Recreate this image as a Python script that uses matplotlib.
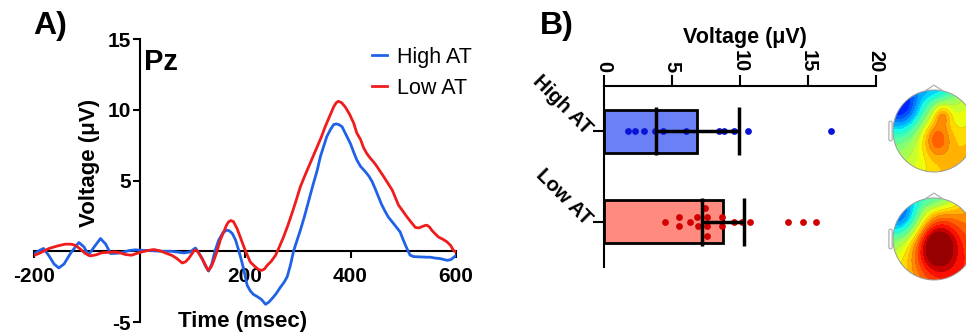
import numpy as np
import matplotlib
matplotlib.use('Agg')
import matplotlib.pyplot as plt
from matplotlib.patches import Circle, Polygon, FancyBboxPatch

plt.rcParams['font.family'] = ['Liberation Sans', 'DejaVu Sans']
plt.rcParams['axes.unicode_minus'] = False

# ---------------- data: panel A (ERP at Pz) ----------------
time_high = [-200, -190, -182, -172, -162, -153, -143, -130, -115, -105, -97, -85, -74, -64, -55, -45,
             -34, -20, -8, 2, 20, 40, 60, 84, 96, 106, 112, 119, 125, 131, 137, 143, 150, 158, 165,
             170, 176, 182, 188, 193, 198, 204, 210, 216, 223, 231, 239, 245, 251, 259, 267, 274,
             280, 286, 292, 298, 305, 313, 321, 329, 337, 343, 349, 355, 362, 368, 373, 378, 384,
             392, 400, 406, 412, 419, 428, 435, 441, 447, 453, 459, 466, 472, 479, 486, 494, 500,
             507, 513, 520, 532, 545, 551, 560, 570, 583, 590, 595, 600]
volt_high = [-0.2, 0.05, 0.2, -0.3, -0.9, -1.18, -0.9, -0.1, 0.62, 0.3, -0.28, 0.35, 0.9, 0.5, -0.16,
             -0.15, -0.1, 0.05, 0.1, 0.07, 0.05, 0.0, 0.0, -0.12, -0.05, 0.23, -0.1, -0.52, -1.05,
             -1.4, -0.9, 0.0, 0.78, 1.3, 1.49, 1.45, 1.25, 0.8, 0.07, -0.6, -1.35, -2.4, -2.8, -3.05,
             -3.2, -3.4, -3.75, -3.6, -3.36, -3.0, -2.55, -2.2, -1.8, -1.0, 0.0, 0.7, 1.49, 2.5, 3.6,
             4.7, 5.74, 6.7, 7.4, 8.1, 8.6, 8.95, 9.0, 8.95, 8.8, 8.2, 7.6, 7.0, 6.45, 6.0, 5.63, 5.3,
             4.92, 4.4, 3.85, 3.3, 2.79, 2.4, 2.08, 1.75, 1.37, 0.8, 0.19, -0.28, -0.38, -0.4, -0.42,
             -0.42, -0.48, -0.52, -0.64, -0.6, -0.45, -0.3]
time_low = [-200, -190, -172, -155, -141, -130, -122, -112, -103, -93, -82, -71, -58, -46, -36, -27,
            -15, -5, 4, 15, 27, 40, 52, 62, 71, 81, 87, 93, 99, 104, 109, 115, 122, 130, 136, 141,
            147, 153, 160, 165, 169, 173, 178, 185, 191, 198, 204, 210, 218, 226, 232, 237, 242,
            250, 258, 265, 273, 281, 289, 297, 305, 313, 321, 329, 337, 345, 352, 360, 368, 373,
            377, 383, 390, 398, 406, 412, 419, 425, 431, 437, 444, 450, 457, 463, 471, 479, 485,
            491, 499, 507, 515, 523, 530, 535, 541, 545, 550, 554, 560, 567, 575, 583, 590, 595, 600]
volt_low = [-0.3, -0.15, 0.19, 0.38, 0.5, 0.5, 0.43, 0.15, -0.16, -0.33, -0.25, -0.1, -0.08, -0.05,
            -0.12, -0.23, -0.28, -0.15, -0.05, 0.05, 0.12, 0.02, -0.16, -0.3, -0.52, -0.83, -0.75,
            -0.52, -0.2, 0.07, 0.05, -0.3, -0.76, -1.35, -1.1, -0.64, 0.0, 0.78, 1.4, 1.85, 2.08,
            2.17, 2.1, 1.6, 1.0, 0.3, -0.25, -0.76, -1.05, -1.3, -1.35, -1.25, -1.0, -0.7, -0.28,
            0.3, 1.0, 1.8, 2.67, 3.6, 4.56, 5.3, 6.0, 6.7, 7.4, 8.1, 8.8, 9.5, 10.2, 10.5, 10.6,
            10.5, 10.2, 9.7, 9.06, 8.35, 7.9, 7.3, 6.9, 6.6, 6.3, 6.0, 5.6, 5.27, 4.8, 4.33, 3.8,
            3.26, 2.85, 2.43, 2.05, 1.68, 1.65, 1.73, 1.82, 1.84, 1.7, 1.49, 1.25, 1.0, 0.85, 0.66,
            0.4, 0.07, -0.05]
xticks_a = [-200, 200, 400, 600]
yticks_a = [-5, 5, 10, 15]

# ---------------- data: panel B (bar + points) ----------------
groups = ['High AT', 'Low AT']
bar_means = [6.84, 8.73]
err_lower = [3.04, 1.53]
err_upper = [3.06, 1.57]
points_high = [1.74, 2.28, 2.92, 3.75, 4.36, 6.03, 8.48, 8.82, 9.56, 10.6, 16.7]
points_low = [4.49, 5.51, 5.51, 6.32, 6.86, 6.94, 7.43, 7.55, 7.55, 7.55, 8.65, 8.65,
              9.56, 10.17, 10.7, 13.5, 14.6, 15.6]
xticks_b = [0, 5, 10, 15, 20]

# topography field parameters: (base, gradient x, gradient y) and blobs (cx, cy, sx, sy, amp)
topo_high_base = (0.46, 0.14, -0.12)
topo_high_blobs = [(-0.8, 0.6, 0.55, 0.6, -0.4), (0.1, 1.0, 0.5, 0.3, -0.18),
                   (0.05, -0.15, 0.38, 0.5, 0.27), (0.2, 0.4, 0.22, 0.27, 0.18)]
topo_low_base = (0.6, 0.15, -0.1)
topo_low_blobs = [(-0.8, 0.6, 0.55, 0.6, -0.42), (0.1, 1.0, 0.5, 0.3, -0.2),
                  (0.05, -0.15, 0.55, 0.7, 0.45)]

BLUE_LINE = '#1f62e8'
RED_LINE = '#f01c1c'
BAR_COLORS = ['#6b80f5', '#ff8a80']
DOT_COLORS = ['#0a14d8', '#d00000']

W, H = 966, 335
fig = plt.figure(figsize=(W / 100, H / 100), dpi=100)


def px(l, t, w, h):
    return [l / W, 1 - (t + h) / H, w / W, h / H]


# ---------------- Panel A ----------------
axA = fig.add_axes(px(34, 39, 422, 283))
axA.plot(time_high, volt_high, color=BLUE_LINE, lw=2.0, label='High AT', zorder=3)
axA.plot(time_low, volt_low, color=RED_LINE, lw=2.0, label='Low AT', zorder=3)
axA.set_xlim(-200, 600)
axA.set_ylim(-5, 15)
axA.spines['left'].set_position(('data', 0))
axA.spines['bottom'].set_position(('data', 0))
axA.spines['top'].set_visible(False)
axA.spines['right'].set_visible(False)
for s in ['left', 'bottom']:
    axA.spines[s].set_linewidth(1.5)
axA.set_xticks(xticks_a)
axA.set_yticks(yticks_a)
axA.tick_params(axis='both', direction='out', length=5, width=1.5, labelsize=15)
axA.tick_params(axis='x', pad=6)
axA.tick_params(axis='y', pad=1)
for lab in axA.get_xticklabels() + axA.get_yticklabels():
    lab.set_fontweight('bold')
axA.patch.set_visible(False)

leg = axA.legend(loc='upper left', bbox_to_anchor=(372 / W, 1 - 47 / H),
                 bbox_transform=fig.transFigure, frameon=False, fontsize=15.5,
                 handlelength=0.7, handletextpad=0.45, labelspacing=0.45,
                 borderpad=0, borderaxespad=0)

fig.text(90 / W, 1 - 163 / H, 'Voltage (\u03bcV)', rotation=90, ha='center', va='center',
         fontsize=16, fontweight='bold')
fig.text(243 / W, 1 - 321 / H, 'Time (msec)', ha='center', va='center',
         fontsize=16, fontweight='bold')
fig.text(33 / W, 1 - 26 / H, 'A)', ha='left', va='center', fontsize=23, fontweight='bold')
fig.text(144 / W, 1 - 62 / H, 'Pz', ha='left', va='center', fontsize=21, fontweight='bold')

# ---------------- Panel B ----------------
axB = fig.add_axes(px(604, 86, 272, 181))
ypos = np.arange(len(groups))
axB.barh(ypos, bar_means, height=0.47, color=BAR_COLORS, edgecolor='k', linewidth=2, zorder=2)


def swarm_offsets(vals, bin_w=0.25, step=0.102):
    vals = np.asarray(vals, dtype=float)
    order = np.argsort(vals, kind='stable')
    offs = np.zeros(len(vals))
    n = len(vals)
    i = 0
    while i < n:
        j = i
        while j + 1 < n and vals[order[j + 1]] - vals[order[i]] <= bin_w:
            j += 1
        idx = order[i:j + 1]
        k = len(idx)
        offs[idx] = (np.arange(k) - (k - 1) / 2) * step
        i = j + 1
    return offs


for yi, pts, col in zip(ypos, [points_high, points_low], DOT_COLORS):
    offs = swarm_offsets(pts)
    axB.scatter(pts, yi + offs, s=24, color=col, linewidths=0, zorder=3)

axB.errorbar(bar_means, ypos, xerr=[err_lower, err_upper], fmt='none', ecolor='k',
             elinewidth=2.5, capsize=17, capthick=2.5, zorder=4)

axB.set_xlim(0, 20)
axB.set_ylim(1.5, -0.5)
axB.xaxis.tick_top()
axB.set_xticks(xticks_b)
axB.set_yticks(ypos)
axB.set_yticklabels(groups)
axB.spines['right'].set_visible(False)
axB.spines['bottom'].set_visible(False)
for s in ['left', 'top']:
    axB.spines[s].set_linewidth(1.5)
axB.tick_params(axis='x', direction='out', length=8, width=1.5, labelsize=14.5,
                labelrotation=-90, pad=2)
axB.tick_params(axis='y', direction='out', length=8, width=1.5, labelsize=14.5, pad=3)
for lab in axB.get_xticklabels():
    lab.set_fontweight('bold')
for lab in axB.get_yticklabels():
    lab.set_fontweight('bold')
    lab.set_rotation(-45)
    lab.set_rotation_mode('anchor')
    lab.set_ha('right')
    lab.set_va('center')
axB.patch.set_visible(False)

fig.text(540 / W, 1 - 26 / H, 'B)', ha='left', va='center', fontsize=23, fontweight='bold')
fig.text(745 / W, 1 - 37 / H, 'Voltage (\u03bcV)', ha='center', va='center',
         fontsize=15.5, fontweight='bold')


# ---------------- topographic maps ----------------
def draw_head(cx_px, cy_px, base, blobs):
    r_px = 41.0
    size = 2.4 * r_px
    ax = fig.add_axes(px(cx_px - size / 2, cy_px - size / 2, size, size))
    ax.set_xlim(-1.2, 1.2)
    ax.set_ylim(-1.2, 1.2)
    ax.axis('off')
    g = np.linspace(-1.02, 1.02, 205)
    X, Y = np.meshgrid(g, g)
    Z = base[0] + base[1] * X + base[2] * Y
    for bx, by, sx, sy, a in blobs:
        Z = Z + a * np.exp(-((X - bx) ** 2 / sx ** 2 + (Y - by) ** 2 / sy ** 2))
    lo, hi = -0.1, 1.0
    Z = np.clip(Z, lo + 1e-3, hi - 1e-3)
    levels = np.linspace(lo, hi, 21)
    clip = Circle((0, 0), 1.0, transform=ax.transData)
    cf = ax.contourf(X, Y, Z, levels=levels, cmap='jet', vmin=lo - 0.18, vmax=hi)
    cf.set_clip_path(clip)
    cl = ax.contour(X, Y, Z, levels=levels[::2], colors='#555555', linewidths=0.25, alpha=0.25)
    cl.set_clip_path(clip)
    ax.add_patch(Circle((0, 0), 1.0, fill=False, ec='#9a9a9a', lw=0.7))
    ax.add_patch(Polygon([(-0.22, 0.975), (0, 1.12), (0.22, 0.975)], closed=False,
                         fill=False, ec='#b0b0b0', lw=0.9))
    ax.add_patch(FancyBboxPatch((-1.1, -0.24), 0.08, 0.48,
                                boxstyle='round,pad=0.0,rounding_size=0.04',
                                fill=False, ec='#b0b0b0', lw=0.9))


draw_head(934, 131, topo_high_base, topo_high_blobs)
draw_head(934, 239, topo_low_base, topo_low_blobs)

fig.savefig('out.png', dpi=100)
